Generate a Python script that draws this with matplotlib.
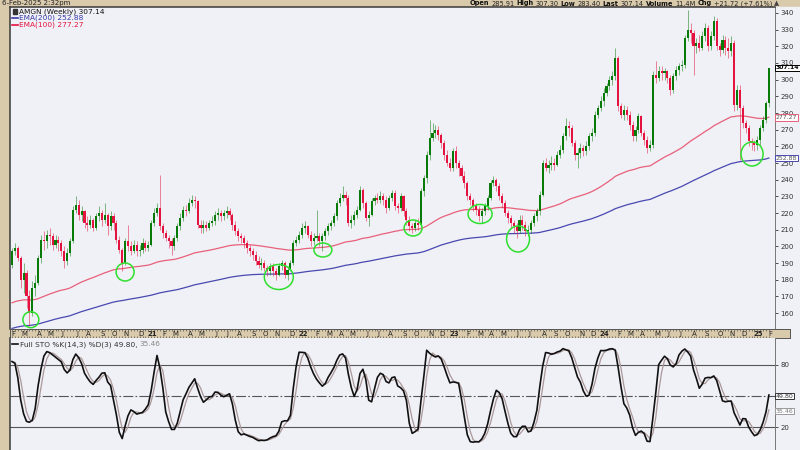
import numpy as np
import pandas as pd
import matplotlib
matplotlib.use("Agg")
import matplotlib.pyplot as plt
from matplotlib.patches import Ellipse, Rectangle
from matplotlib import transforms

# weekly bars, week of 3-Feb-2020 .. week of 3-Feb-2025
weeks = pd.date_range("2020-02-03", "2025-02-03", freq="W-MON")

close_2020 = [197, 199, 193, 180, 184, 170, 160, 175, 178, 193, 204, 203, 207, 206, 201, 204, 202,
              197, 191, 196, 203, 222, 225, 219, 221, 214, 213, 216, 211, 218, 220, 216, 219, 212, 218,
              214, 204, 198, 190, 203, 200, 197, 201, 197, 198, 202, 199, 201]
high_2020 = [199, 202, 200, 194, 190, 186, 174, 179, 183, 195, 207, 209, 210, 211, 208, 207, 206,
             204, 200, 199, 205, 224, 230, 228, 224, 222, 218, 219, 217, 220, 224, 222, 226, 220, 221,
             220, 216, 206, 199, 205, 213, 203, 204, 203, 201, 205, 204, 203]
low_2020 = [187, 195, 191, 175, 172, 163, 152, 158, 170, 177, 190, 198, 199, 201, 198, 199, 197,
            194, 187, 189, 194, 202, 220, 216, 215, 211, 209, 211, 209, 210, 215, 212, 214, 207, 210,
            210, 202, 196, 185, 189, 197, 195, 196, 194, 194, 196, 197, 197]

close_2021 = [214, 220, 223, 212, 208, 205, 203, 200, 205, 212, 217, 222, 221, 226, 228, 227, 213,
              211, 213, 211, 214, 215, 219, 220, 218, 220, 221, 219, 213, 209, 206, 205, 202, 199, 197,
              195, 191, 189, 190, 187, 185, 188, 185, 183, 188, 190, 183, 186, 190, 202, 204, 207]
high_2021 = [216, 223, 226, 243, 214, 210, 207, 205, 207, 214, 220, 224, 225, 229, 231, 230, 228,
             216, 216, 215, 216, 218, 221, 223, 222, 222, 224, 223, 220, 215, 211, 208, 207, 204, 201,
             199, 197, 194, 193, 192, 189, 190, 190, 187, 190, 192, 191, 188, 192, 204, 206, 209]
low_2021 = [200, 212, 218, 210, 205, 203, 199, 195, 198, 203, 210, 215, 218, 220, 224, 223, 211,
            208, 208, 209, 210, 212, 213, 216, 215, 216, 217, 216, 210, 207, 203, 202, 199, 196, 194,
            192, 189, 187, 186, 185, 182, 183, 182, 180, 182, 186, 181, 180, 185, 189, 200, 202]

close_2022 = [211, 212, 207, 203, 205, 206, 203, 206, 209, 212, 214, 218, 226, 229, 231, 229, 214,
              216, 219, 222, 234, 226, 217, 219, 227, 229, 228, 230, 228, 223, 229, 232, 224, 223, 230,
              221, 216, 212, 211, 214, 213, 233, 241, 255, 265, 268, 270, 267, 262, 255, 250, 247]
high_2022 = [214, 215, 213, 209, 208, 222, 208, 208, 211, 214, 216, 220, 228, 232, 236, 233, 231,
             219, 221, 224, 236, 235, 227, 221, 229, 231, 232, 233, 232, 230, 231, 234, 234, 226, 232,
             231, 223, 218, 214, 216, 217, 235, 243, 257, 276, 274, 273, 272, 268, 264, 258, 253]
low_2022 = [205, 208, 205, 200, 201, 203, 200, 197, 204, 207, 210, 212, 216, 224, 227, 225, 212,
            211, 213, 217, 221, 223, 215, 212, 218, 225, 226, 226, 225, 220, 222, 227, 222, 220, 221,
            218, 213, 209, 208, 209, 210, 212, 230, 238, 252, 263, 265, 264, 259, 252, 248, 245]

close_2023 = [257, 250, 247, 242, 238, 230, 228, 224, 222, 218, 221, 224, 229, 238, 240, 236, 230,
              226, 220, 217, 214, 212, 209, 216, 213, 209, 210, 214, 218, 221, 231, 250, 247, 249, 250,
              249, 255, 258, 266, 272, 271, 262, 255, 256, 259, 257, 260, 266, 268, 279, 283, 287]
high_2023 = [259, 260, 252, 249, 245, 239, 232, 229, 226, 224, 223, 226, 231, 240, 242, 241, 238,
             232, 228, 222, 219, 216, 214, 219, 219, 215, 213, 216, 220, 223, 233, 252, 253, 252, 254,
             253, 257, 261, 268, 277, 275, 273, 264, 259, 262, 261, 263, 268, 271, 281, 285, 290]
low_2023 = [245, 247, 242, 240, 235, 228, 225, 221, 219, 215, 214, 219, 222, 228, 236, 233, 228,
            223, 218, 214, 211, 208, 205, 208, 210, 206, 206, 208, 212, 215, 219, 230, 245, 244, 246,
            246, 248, 253, 256, 264, 266, 260, 252, 247, 253, 254, 255, 258, 263, 266, 277, 281]

close_2024 = [292, 296, 300, 302, 313, 284, 279, 282, 279, 273, 266, 270, 278, 268, 264, 259, 261,
              303, 301, 305, 304, 305, 301, 294, 302, 306, 308, 309, 325, 330, 328, 320, 322, 319, 326,
              331, 320, 326, 335, 320, 318, 324, 319, 317, 322, 285, 294, 283, 274, 271, 263, 262, 261]
high_2024 = [295, 298, 302, 305, 319, 314, 286, 285, 284, 281, 275, 272, 280, 279, 270, 266, 264,
             305, 311, 308, 308, 307, 306, 303, 304, 308, 310, 312, 327, 342, 334, 330, 325, 327, 329,
             334, 333, 329, 338, 337, 322, 327, 326, 325, 326, 324, 297, 297, 285, 276, 273, 265, 264]
low_2024 = [284, 290, 294, 297, 300, 281, 277, 276, 276, 270, 263, 263, 268, 266, 261, 256, 257,
            259, 298, 299, 300, 300, 298, 291, 292, 300, 303, 305, 307, 323, 322, 303, 316, 317, 318,
            323, 317, 318, 324, 318, 314, 316, 315, 313, 314, 281, 282, 252, 271, 268, 260, 258, 257]

close_2025 = [264, 271, 276, 286, 307.14]
high_2025 = [266, 273, 278, 287, 307.30]
low_2025 = [258, 260, 269, 274, 283.40]

first_open = 189.0
last_open = 285.91

# EMA values just before the first bar
ema200_start = 150.3
ema100_start = 165.5

# green circles drawn on the chart: week index, price, width (weeks), height (price)
circle_week = [6.5, 39, 92, 107.2, 138.3, 161.4, 174.5, 255.2]
circle_price = [156, 184.6, 181.6, 197.8, 211, 219.4, 204.4, 255.4]
circle_w = [5.5, 6.2, 10, 6.2, 6.2, 8.3, 7.9, 7.6]
circle_h = [9.6, 10.8, 15, 8.4, 9.6, 11.4, 15.6, 14.4]

TAN = "#d9caab"
BG = "#f0f0f7"
GREEN = "#087a08"
RED = "#e3123f"

cl = np.array(close_2020 + close_2021 + close_2022 + close_2023 + close_2024 + close_2025, float)
hi = np.array(high_2020 + high_2021 + high_2022 + high_2023 + high_2024 + high_2025, float)
lo = np.array(low_2020 + low_2021 + low_2022 + low_2023 + low_2024 + low_2025, float)
op = np.concatenate([[first_open], cl[:-1]])
op[-1] = last_open
x = np.arange(len(cl))


def ema(values, n, start):
    k = 2.0 / (n + 1)
    out = []
    e = start
    for v in values:
        e = e + k * (v - e)
        out.append(e)
    return np.array(out)


ema200 = ema(cl, 200, ema200_start)
ema100 = ema(cl, 100, ema100_start)

hh = pd.Series(hi).rolling(14, min_periods=1).max()
ll = pd.Series(lo).rolling(14, min_periods=1).min()
raw_k = 100 * (pd.Series(cl) - ll) / (hh - ll)
sto_k = raw_k.rolling(3, min_periods=1).mean()
sto_d = sto_k.rolling(3, min_periods=1).mean()

W, H = 800, 450
fig = plt.figure(figsize=(8, 4.5), dpi=100, facecolor=TAN)


def fx(px):
    return px / W


def fy(py):
    return 1 - py / H


# light area behind the right-hand labels (under the axes)
fig.patches.append(Rectangle((fx(775), 0), 1 - fx(775), fy(7), transform=fig.transFigure,
                             color=BG, zorder=-5))

x0 = -0.69
pxw = 2.9  # pixels per week
x1 = x0 + (775 - 10) / pxw

# ---------------- price panel ----------------
ax = fig.add_axes([fx(10), fy(329), fx(775) - fx(10), fy(7) - fy(329)], facecolor=BG)
ax.set_xlim(x0, x1)
ax.set_ylim(150.4, 343.6)

up = cl >= op
colors = np.where(up, GREEN, RED)
ax.plot(x, ema200, color="#4848b0", lw=0.9, zorder=2)
ax.plot(x, ema100, color="#e8607a", lw=0.9, zorder=2)
ax.vlines(x, lo, hi, colors=colors, lw=0.65, alpha=0.55, zorder=3)
body_h = np.maximum(np.abs(cl - op), 0.5)
ax.bar(x, body_h, bottom=np.minimum(op, cl), width=0.72, color=colors, lw=0, zorder=4)

for cw, cp, w, h in zip(circle_week, circle_price, circle_w, circle_h):
    ax.add_patch(Ellipse((cw, cp), w, h, fill=False, ec="#2ee02e", lw=1.1, zorder=6))

ax.set_xticks([])
ax.yaxis.tick_right()
ax.set_yticks(range(160, 341, 10))
ax.tick_params(axis="y", labelsize=5, length=2.5, width=0.6, pad=1.5, colors="#333333")
for s in ["left", "top"]:
    ax.spines[s].set_color("#3a3a3a")
    ax.spines[s].set_linewidth(1.1)
ax.spines["right"].set_color("#777777")
ax.spines["right"].set_linewidth(0.7)
ax.spines["bottom"].set_visible(False)

tr = transforms.blended_transform_factory(ax.transAxes, ax.transData)
for val, ec, tc, wt in [(307.14, "black", "black", "bold"),
                        (277.27, "#e8607a", "#555555", "normal"),
                        (252.88, "#4848b0", "#555555", "normal")]:
    ax.text(1.001, val, f"{val:.2f}", transform=tr, fontsize=4.4, fontweight=wt, color=tc,
            va="center", ha="left", clip_on=False, zorder=10,
            bbox=dict(boxstyle="square,pad=0.1", fc="white", ec=ec, lw=0.7))

# ---------------- date ruler ----------------
axr = fig.add_axes([fx(10), fy(338), fx(790) - fx(10), fy(329) - fy(338)], facecolor=TAN)
axr.set_xlim(x0, x0 + (790 - 10) / pxw)
axr.set_ylim(0, 1)
axr.set_yticks([])
axr.set_xticks([])
axr.set_xticks(x, minor=True)
axr.tick_params(axis="x", which="minor", direction="in", length=1.5, width=0.5,
                color="#555555", top=True, bottom=True)
for s in axr.spines.values():
    s.set_color("#555555")
    s.set_linewidth(0.7)
prev_month = None
for i, d in enumerate(weeks):
    if d.month != prev_month:
        if d.month == 1:
            lab, wt = d.strftime("%y"), "bold"
        else:
            lab, wt = d.strftime("%b")[0], "normal"
        axr.text(i + 0.4, 0.42, lab, fontsize=5, fontweight=wt, ha="center", va="center",
                 color="#222222")
        prev_month = d.month

# ---------------- stochastics panel ----------------
ax2 = fig.add_axes([fx(10), 0, fx(775) - fx(10), fy(338)], facecolor=BG)
ax2.set_xlim(x0, x1)
ax2.set_ylim(-2.2, 106.1)
ax2.axhline(80, color="#555555", lw=0.8, zorder=1)
ax2.axhline(20, color="#555555", lw=0.8, zorder=1)
ax2.axhline(50, color="#555555", lw=0.8, ls=(0, (9, 2, 1.5, 2)), zorder=1)
ax2.plot(x, sto_d, color="#ab9898", lw=0.9, zorder=2)
ax2.plot(x, sto_k, color="#111111", lw=1.2, zorder=3)
ax2.set_xticks([])
ax2.yaxis.tick_right()
ax2.set_yticks([20, 80])
ax2.tick_params(axis="y", labelsize=5, length=2.5, width=0.6, pad=1.5, colors="#333333")
ax2.spines["left"].set_color("#3a3a3a")
ax2.spines["left"].set_linewidth(1.1)
ax2.spines["right"].set_color("#777777")
ax2.spines["right"].set_linewidth(0.7)
ax2.spines["top"].set_visible(False)
ax2.spines["bottom"].set_visible(False)

tr2 = transforms.blended_transform_factory(ax2.transAxes, ax2.transData)
ax2.text(1.001, 49.80, "49.80", transform=tr2, fontsize=4.5, color="#333333", va="center",
         ha="left", clip_on=False, zorder=10,
         bbox=dict(boxstyle="square,pad=0.1", fc="white", ec="#333333", lw=0.7))
ax2.text(1.001, 35.46, "35.46", transform=tr2, fontsize=4.5, color="#777777", va="center",
         ha="left", clip_on=False, zorder=10,
         bbox=dict(boxstyle="square,pad=0.1", fc="white", ec="#999999", lw=0.7))

# ---------------- texts ----------------
renderer = fig.canvas.get_renderer()


def text_run(x_px, y_px, pieces, size=5.3, gap=2.5):
    for s, wt, col in pieces:
        t = fig.text(fx(x_px), fy(y_px), s, fontsize=size, fontweight=wt, color=col,
                     ha="left", va="baseline")
        x_px += t.get_window_extent(renderer).width + gap
    return x_px


def run_width(pieces, size=5.3, gap=2.5):
    total = 0
    for s, wt, col in pieces:
        t = fig.text(0, 0, s, fontsize=size, fontweight=wt)
        total += t.get_window_extent(renderer).width + gap
        t.remove()
    return total


text_run(2, 5.5, [("6-Feb-2025 2:32pm", "normal", "#222222")], size=5)
quote = [("Open", "bold", "#111111"), ("285.91", "normal", "#222222"),
         ("High", "bold", "#111111"), ("307.30", "normal", "#222222"),
         ("Low", "bold", "#111111"), ("283.40", "normal", "#222222"),
         ("Last", "bold", "#111111"), ("307.14", "normal", "#222222"),
         ("Volume", "bold", "#111111"), ("11.4M", "normal", "#222222"),
         ("Chg", "bold", "#111111"), ("+21.72 (+7.61%)", "normal", "#222222"),
         ("\u25b2", "normal", "#444444")]
qw = run_width(quote, size=4.8, gap=2)
text_run(781 - qw, 5.5, quote, size=4.8, gap=2)

# legend of the price panel
fig.patches.append(Rectangle((fx(13), fy(14)), fx(4), 5 / H, transform=fig.transFigure,
                             color="#333333", zorder=5))
text_run(19, 13.5, [("AMGN (Weekly) 307.14", "normal", "#111111")])
for yy, col, lab in [(17.5, "#3a3aa8", "EMA(200) 252.88"), (24.5, "#e3123f", "EMA(100) 277.27")]:
    fig.lines.append(plt.Line2D([fx(12), fx(18)], [fy(yy), fy(yy)], transform=fig.transFigure,
                                color=col, lw=1.2))
    text_run(19, yy + 2.2, [(lab, "normal", col)])

# legend of the stochastics panel
fig.lines.append(plt.Line2D([fx(12), fx(18)], [fy(344), fy(344)], transform=fig.transFigure,
                            color="#111111", lw=1.2))
text_run(20, 346.3, [("Full STO %K(14,3) %D(3) 49.80,", "normal", "#333333"),
                     ("35.46", "normal", "#888888")], gap=2)

fig.savefig("out.png", dpi=100, facecolor=TAN)
